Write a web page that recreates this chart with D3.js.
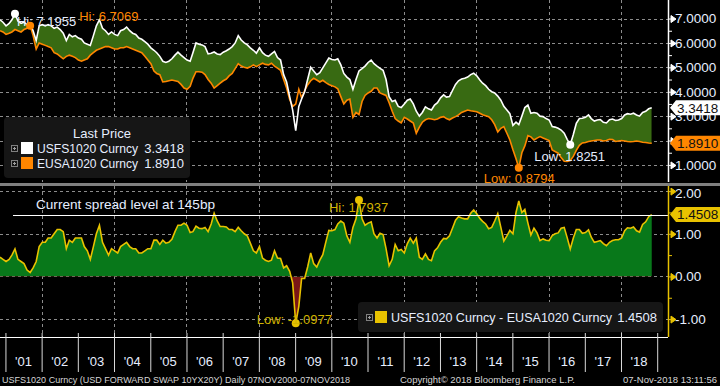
<!DOCTYPE html>
<html>
<head>
<meta charset="utf-8">
<script src="https://cdn.jsdelivr.net/npm/d3@7"></script>
<style>
  body { margin: 0; background: #000; }
  svg { display: block; font-family: 'Liberation Sans', Arial, sans-serif; }
</style>
</head>
<body>
<svg id="chart" width="720" height="386"></svg>
<script>
// monthly closes, first one on 07-Nov-2000
const firstDay = '2000-11-07';

const usfsValues = [
  6.95, 6.85, 6.70, 6.80, 6.95, 7.1955, 6.90, 6.80, 6.85, 6.75,
  6.80, 6.50, 6.10, 6.70, 6.75, 6.70, 6.75, 6.70, 6.60, 6.65,
  6.55, 6.40, 6.10, 6.35, 6.25, 6.30, 6.20, 6.15, 6.00, 5.95,
  5.90, 6.30, 6.70, 6.95, 6.60, 6.50, 6.35, 6.45, 6.35, 6.30,
  6.50, 6.55, 6.65, 6.50, 6.40, 6.35, 6.20, 6.15, 6.05, 5.95,
  5.80, 5.70, 5.60, 5.45, 5.25, 5.20, 5.25, 5.35, 5.50, 5.62,
  5.50, 5.40, 5.30, 5.25, 5.60, 6.00, 5.95, 5.92, 5.85, 5.55,
  5.58, 5.63, 5.55, 5.52, 5.62, 5.68, 5.75, 5.85, 6.00, 6.30,
  6.12, 6.00, 5.92, 5.80, 5.70, 5.58, 5.80, 5.60, 5.50, 5.45,
  5.55, 5.65, 5.40, 5.30, 4.70, 4.40, 3.80, 3.25, 2.4023, 3.40,
  3.70, 4.00, 4.50, 5.00, 4.85, 4.70, 4.78, 4.98, 5.18, 5.38,
  5.32, 5.30, 5.35, 5.10, 4.75, 4.60, 4.50, 4.10, 4.50, 4.8537,
  4.95, 5.05, 5.20, 5.30, 5.15, 5.05, 4.96, 4.88, 4.50, 3.80,
  3.60, 3.65, 3.40, 3.35, 3.50, 3.65, 3.70, 3.50, 3.20, 3.00,
  3.15, 3.38, 3.30, 3.25, 3.45, 3.55, 3.75, 3.87, 3.78, 3.80,
  4.05, 4.30, 4.45, 4.52, 4.55, 4.60, 4.70, 4.76, 4.65, 4.48,
  4.35, 4.25, 4.10, 4.00, 3.95, 3.82, 3.65, 3.40, 3.25, 3.10,
  2.62, 2.75, 2.65, 3.00, 3.35, 3.45, 3.12, 3.15, 3.12, 3.00,
  2.98, 2.90, 2.84, 2.57, 2.55, 2.50, 2.43, 2.30, 2.05, 1.8251,
  2.25, 2.70, 2.90, 2.91, 2.95, 3.05, 2.90, 2.80, 2.84, 2.86,
  2.75, 2.72, 2.85, 2.88, 2.82, 2.84, 2.90, 3.05, 3.10, 3.08,
  3.12, 3.05, 3.00, 3.15, 3.20, 3.30, 3.3418
];

const eusaValues = [
  6.50, 6.45, 6.35, 6.40, 6.45, 6.55, 6.50, 6.45, 6.55, 6.60,
  6.7069, 6.30, 5.75, 6.00, 5.95, 5.90, 5.85, 5.80, 5.60, 5.55,
  5.45, 5.35, 5.45, 5.50, 5.45, 5.40, 5.30, 5.25, 5.30, 5.35,
  5.50, 5.60, 5.70, 5.75, 5.80, 5.85, 5.85, 5.80, 5.75, 5.75,
  5.80, 5.80, 5.85, 5.80, 5.75, 5.70, 5.65, 5.60, 5.45, 5.30,
  5.15, 4.85, 4.75, 4.70, 4.40, 4.42, 4.45, 4.48, 4.45, 4.42,
  4.30, 4.15, 4.10, 4.22, 4.55, 4.82, 4.82, 4.80, 4.70, 4.50,
  4.35, 4.15, 4.25, 4.35, 4.45, 4.52, 4.65, 4.75, 4.95, 5.15,
  5.05, 5.00, 4.97, 5.02, 5.10, 5.03, 5.10, 5.17, 5.12, 5.10,
  5.17, 5.05, 4.97, 4.88, 4.50, 4.15, 3.68, 3.40, 3.50, 4.10,
  3.75, 4.05, 4.28, 4.45, 4.55, 4.48, 4.40, 4.47, 4.37, 4.30,
  4.25, 4.20, 4.12, 3.80, 3.50, 3.65, 3.70, 2.95, 3.15, 3.06,
  3.60, 3.85, 3.95, 4.02, 4.15, 4.15, 3.95, 3.90, 3.85, 3.55,
  3.20, 2.90, 2.80, 2.72, 2.95, 2.88, 2.80, 2.72, 2.30, 2.55,
  2.75, 2.85, 2.90, 2.88, 2.85, 2.88, 2.95, 2.98, 2.90, 2.85,
  2.92, 2.98, 3.05, 3.15, 3.20, 3.25, 3.22, 3.20, 3.18, 3.12,
  3.06, 3.02, 2.98, 2.85, 2.65, 2.35, 2.50, 2.57, 2.30, 2.02,
  1.62, 1.25, 0.8794, 1.50, 1.78, 2.20, 2.15, 2.02, 2.10, 2.16,
  2.10, 2.05, 2.00, 1.61, 1.55, 1.48, 1.30, 1.15, 1.14, 1.18,
  1.35, 1.60, 1.80, 1.90, 1.92, 1.96, 1.98, 2.00, 2.02, 2.02,
  1.98, 2.00, 2.05, 2.04, 1.96, 1.98, 2.00, 1.98, 1.96, 1.95,
  1.96, 1.98, 1.96, 1.93, 1.92, 1.90, 1.891
];

const yearLabels = ["'01", "'02", "'03", "'04", "'05", "'06", "'07", "'08", "'09",
  "'10", "'11", "'12", "'13", "'14", "'15", "'16", "'17", "'18"];
const topTicks = [1, 2, 3, 4, 5, 6, 7];
const topMinorTicks = [1.5, 2.5, 3.5, 4.5, 5.5, 6.5];
const bottomTicks = [-1, 0, 1, 2];
const bottomMinorTicks = [-0.5, 0.5, 1.5];
const spreadLevel = 1.45;
const usfsName = 'USFS1020 Curncy';
const eusaName = 'EUSA1020 Curncy';
const footerLeft = 'USFS1020 Curncy (USD FORWARD SWAP 10YX20Y)  Daily 07NOV2000-07NOV2018';
const footerMid = 'Copyright\u00a9 2018 Bloomberg Finance L.P.';
const footerRight = '07-Nov-2018 13:11:56';

const WHITE_TXT = '#e6eeff';
const ORANGE = '#ff8600';
const YELLOW = '#e8c200';
const YELLOW_TXT = '#d2b400';
const GRID = '#8c8c8c';

const svg = d3.select('#chart');
const plotRight = 668;
const topPanel = { y0: 0, y1: 182 };
const botPanel = { y0: 186, y1: 337 };

const start = d3.timeParse('%Y-%m-%d')(firstDay);
const rows = usfsValues.map((u, i) => ({
  date: d3.timeMonth.offset(start, i),
  usfs: u,
  eusa: eusaValues[i],
  spread: u - eusaValues[i]
}));
const last = rows[rows.length - 1];

const x = d3.scaleTime()
  .domain([start, new Date(2019, 3, 20)])
  .range([0, plotRight]);
const yTop = d3.scaleLinear().domain([0.3, 7.76]).range([topPanel.y1, topPanel.y0]);
const yBot = d3.scaleLinear().domain([-1.42, 2.12]).range([botPanel.y1, botPanel.y0]);

// clips
const defs = svg.append('defs');
defs.append('clipPath').attr('id', 'clip-top')
  .append('rect').attr('x', 0).attr('y', topPanel.y0).attr('width', plotRight).attr('height', topPanel.y1 - topPanel.y0);
defs.append('clipPath').attr('id', 'clip-bot')
  .append('rect').attr('x', 0).attr('y', botPanel.y0).attr('width', plotRight).attr('height', botPanel.y1 - botPanel.y0);
defs.append('clipPath').attr('id', 'above-eusa')
  .append('path').attr('d', d3.area().x(d => x(d.date)).y0(topPanel.y0).y1(d => yTop(d.eusa))(rows));
defs.append('clipPath').attr('id', 'above-zero')
  .append('rect').attr('x', 0).attr('y', botPanel.y0).attr('width', plotRight).attr('height', yBot(0) - botPanel.y0);
defs.append('clipPath').attr('id', 'below-zero')
  .append('rect').attr('x', 0).attr('y', yBot(0)).attr('width', plotRight).attr('height', botPanel.y1 - yBot(0));

// grid
const grid = svg.append('g').attr('stroke', GRID).attr('stroke-dasharray', '3,3').attr('stroke-width', 1);
const gridYears = d3.timeYear.range(new Date(2002, 0, 1), new Date(2019, 0, 2), 2);
gridYears.forEach(d => {
  const gx = Math.round(x(d)) + 0.5;
  grid.append('line').attr('x1', gx).attr('x2', gx).attr('y1', topPanel.y0).attr('y2', topPanel.y1);
  grid.append('line').attr('x1', gx).attr('x2', gx).attr('y1', botPanel.y0).attr('y2', botPanel.y1);
});
topTicks.forEach(t => {
  const gy = Math.round(yTop(t)) + 0.5;
  grid.append('line').attr('x1', 0).attr('x2', plotRight).attr('y1', gy).attr('y2', gy);
});
bottomTicks.forEach(t => {
  const gy = Math.round(yBot(t)) + 0.5;
  grid.append('line').attr('x1', 0).attr('x2', plotRight).attr('y1', gy).attr('y2', gy);
});

// ---------------- top panel
const topG = svg.append('g').attr('clip-path', 'url(#clip-top)');

// white hi label sits under the lines
const usfsHi = rows[d3.maxIndex(rows, d => d.usfs)];
svg.append('text')
  .attr('x', x(usfsHi.date) + 2).attr('y', yTop(usfsHi.usfs) + 12)
  .attr('fill', WHITE_TXT).attr('font-size', 13)
  .text('Hi: ' + usfsHi.usfs.toFixed(4));

topG.append('path')
  .attr('clip-path', 'url(#above-eusa)')
  .attr('fill', '#386a12')
  .attr('d', d3.area().x(d => x(d.date)).y0(topPanel.y1).y1(d => yTop(d.usfs))(rows));

topG.append('path')
  .attr('fill', 'none').attr('stroke', ORANGE).attr('stroke-width', 1.6)
  .attr('d', d3.line().x(d => x(d.date)).y(d => yTop(d.eusa))(rows));
topG.append('path')
  .attr('fill', 'none').attr('stroke', '#fff').attr('stroke-width', 1.6)
  .attr('d', d3.line().x(d => x(d.date)).y(d => yTop(d.usfs))(rows));

function markPoint(cx, cy, color, txt, dx, dy, txtColor) {
  svg.append('circle').attr('cx', cx).attr('cy', cy).attr('r', 4).attr('fill', color);
  if (txt) {
    svg.append('text').attr('x', cx + dx).attr('y', cy + dy)
      .attr('fill', txtColor || color).attr('font-size', 13).text(txt);
  }
}
markPoint(x(usfsHi.date), yTop(usfsHi.usfs), '#fff', null);
const eusaHi = rows[d3.maxIndex(rows, d => d.eusa)];
markPoint(x(eusaHi.date), yTop(eusaHi.eusa), ORANGE,
  'Hi: ' + eusaHi.eusa.toFixed(4), 49, -5);
const usfsLo = rows[d3.minIndex(rows, d => d.usfs)];
markPoint(x(usfsLo.date), yTop(usfsLo.usfs), '#fff',
  'Low: ' + usfsLo.usfs.toFixed(4), -36, 16, WHITE_TXT);
const eusaLo = rows[d3.minIndex(rows, d => d.eusa)];
markPoint(x(eusaLo.date), yTop(eusaLo.eusa), ORANGE,
  'Low: ' + eusaLo.eusa.toFixed(4), -35, 15);

// top legend
const leg = svg.append('g');
leg.append('rect').attr('x', 4).attr('y', 117).attr('width', 186).attr('height', 61)
  .attr('rx', 4).attr('fill', '#161616');
leg.append('text').attr('x', 102).attr('y', 138).attr('text-anchor', 'middle')
  .attr('fill', WHITE_TXT).attr('font-size', 13).text('Last Price');

function plusIcon(g, px, py) {
  g.append('rect').attr('x', px + 0.5).attr('y', py + 0.5).attr('width', 6).attr('height', 6)
    .attr('fill', 'none').attr('stroke', '#808080');
  g.append('path').attr('d', `M${px + 2},${py + 3.5}h3M${px + 3.5},${py + 2}v3`)
    .attr('stroke', '#a0a0a0');
}
const legRows = [
  { name: usfsName, value: last.usfs, color: '#fff' },
  { name: eusaName, value: last.eusa, color: ORANGE }
];
legRows.forEach((r, i) => {
  const ly = 148 + i * 15;
  plusIcon(leg, 11, ly - 3);
  leg.append('rect').attr('x', 21).attr('y', ly - 6).attr('width', 12).attr('height', 12).attr('fill', r.color);
  leg.append('text').attr('x', 37).attr('y', ly + 5).attr('fill', WHITE_TXT).attr('font-size', 12.5)
    .attr('textLength', 101).attr('lengthAdjust', 'spacingAndGlyphs').text(r.name);
  leg.append('text').attr('x', 184).attr('y', ly + 5).attr('text-anchor', 'end')
    .attr('fill', WHITE_TXT).attr('font-size', 13).text(r.value.toFixed(4));
});

// ---------------- bottom panel
const botG = svg.append('g').attr('clip-path', 'url(#clip-bot)');
const spreadArea = d3.area().x(d => x(d.date)).y0(yBot(0)).y1(d => yBot(d.spread));
botG.append('path').attr('clip-path', 'url(#above-zero)').attr('fill', '#08781a').attr('d', spreadArea(rows));
botG.append('path').attr('clip-path', 'url(#below-zero)').attr('fill', '#7a1616').attr('d', spreadArea(rows));
botG.append('path')
  .attr('fill', 'none').attr('stroke', YELLOW).attr('stroke-width', 1.6)
  .attr('d', d3.line().x(d => x(d.date)).y(d => yBot(d.spread))(rows));

// current spread line
const lvlY = Math.round(yBot(spreadLevel)) + 0.5;
svg.append('line').attr('x1', 13).attr('x2', plotRight).attr('y1', lvlY).attr('y2', lvlY)
  .attr('stroke', '#fff').attr('stroke-width', 1.2);
svg.append('text').attr('x', 36).attr('y', lvlY - 7).attr('fill', WHITE_TXT).attr('font-size', 13)
  .attr('textLength', 179).attr('lengthAdjust', 'spacingAndGlyphs')
  .text('Current spread level at ' + Math.round(spreadLevel * 100) + 'bp');

const spHi = rows[d3.maxIndex(rows, d => d.spread)];
markPoint(x(spHi.date), yBot(spHi.spread), YELLOW,
  'Hi: ' + spHi.spread.toFixed(4), -30, 12, YELLOW_TXT);
const spLo = rows[d3.minIndex(rows, d => d.spread)];
markPoint(x(spLo.date), yBot(spLo.spread), YELLOW,
  'Low: ' + spLo.spread.toFixed(4), -39, 1, YELLOW_TXT);

// bottom legend
const leg2 = svg.append('g');
leg2.append('rect').attr('x', 358).attr('y', 302).attr('width', 305).attr('height', 30)
  .attr('rx', 4).attr('fill', '#161616');
plusIcon(leg2, 366, 314);
leg2.append('rect').attr('x', 375).attr('y', 311).attr('width', 12).attr('height', 12).attr('fill', YELLOW);
leg2.append('text').attr('x', 391).attr('y', 322).attr('fill', WHITE_TXT).attr('font-size', 12.5)
  .attr('textLength', 221).attr('lengthAdjust', 'spacingAndGlyphs')
  .text(usfsName + ' - ' + eusaName);
leg2.append('text').attr('x', 657).attr('y', 322).attr('text-anchor', 'end')
  .attr('fill', WHITE_TXT).attr('font-size', 13).text(last.spread.toFixed(4));

// panel separator
svg.append('rect').attr('x', 0).attr('y', 183).attr('width', 720).attr('height', 3).attr('fill', '#7f7f7f');

// ---------------- right axes
// labels that sit under a last-value box are left out, as on the terminal
const boxYs = [yTop(last.usfs), yTop(last.eusa), yBot(last.spread)];

function drawAxis(scale, ticks, minor, fmt, color, panel) {
  const g = svg.append('g').attr('transform', `translate(${plotRight},0)`);
  g.append('line').attr('x1', 0.5).attr('x2', 0.5).attr('y1', panel.y0).attr('y2', panel.y1)
    .attr('stroke', color).attr('stroke-width', 1.5);
  const ax = g.append('g')
    .call(d3.axisRight(scale).tickValues(ticks).tickFormat(fmt).tickSize(0).tickPadding(7));
  ax.select('.domain').remove();
  ax.attr('font-family', null);
  ax.selectAll('.tick text')
    .attr('fill', WHITE_TXT).attr('font-size', 13.5)
    .attr('dy', d => (0.32 + Math.max(0, panel.y0 + 7 - scale(d)) / 13.5) + 'em')
    .filter(d => boxYs.some(by => Math.abs(by - scale(d)) < 7))
    .remove();
  ax.selectAll('.tick').append('path')
    .attr('d', 'M0,0H4M3,-3.5L8,0L3,3.5Z')
    .attr('fill', color).attr('stroke', color).attr('stroke-width', 1);
  const mg = g.append('g')
    .call(d3.axisRight(scale).tickValues(minor).tickFormat('').tickSize(4));
  mg.select('.domain').remove();
  mg.selectAll('.tick line').attr('stroke', color);
}
drawAxis(yTop, topTicks, topMinorTicks, d => d.toFixed(4), '#fff', topPanel);
drawAxis(yBot, bottomTicks, bottomMinorTicks, d => d.toFixed(2), YELLOW, botPanel);

function valueBox(vy, fill, txt) {
  const g = svg.append('g');
  g.append('path')
    .attr('d', `M${plotRight + 2},${vy}L${plotRight + 8},${vy - 7.5}H720V${vy + 7.5}H${plotRight + 8}Z`)
    .attr('fill', fill);
  g.append('text').attr('x', 677).attr('y', vy).attr('dy', '0.35em')
    .attr('fill', '#111').attr('font-size', 13.5).text(txt);
}
valueBox(yTop(last.usfs), '#fff', last.usfs.toFixed(4));
valueBox(yTop(last.eusa), ORANGE, last.eusa.toFixed(4));
valueBox(yBot(last.spread), YELLOW, last.spread.toFixed(4));

// ---------------- time axis
const xg = svg.append('g').attr('transform', `translate(0,${botPanel.y1})`);
const yearTicks = d3.timeYear.range(new Date(2001, 0, 1), new Date(2019, 0, 2));
xg.call(d3.axisBottom(x).tickValues(yearTicks).tickFormat('').tickSize(35).tickSizeOuter(0));
xg.select('.domain').attr('stroke', '#fff').attr('d', `M0,0.5H${plotRight}`);
xg.selectAll('.tick line').attr('stroke', '#d8d8d8');
xg.selectAll('.tick').append('line').attr('y1', 0).attr('y2', -4).attr('stroke', '#d8d8d8');
yearLabels.forEach((lab, i) => {
  const mid = new Date(2001 + i, 6, 2);
  xg.append('text').attr('x', x(mid)).attr('y', 29).attr('text-anchor', 'middle')
    .attr('fill', WHITE_TXT).attr('font-size', 13).text(lab);
});

// footer
const foot = svg.append('g').attr('font-size', 9.5).attr('fill', '#d6d6d6');
foot.append('text').attr('x', 2).attr('y', 383).attr('textLength', 348)
  .attr('lengthAdjust', 'spacingAndGlyphs').text(footerLeft);
foot.append('text').attr('x', 400).attr('y', 383).attr('textLength', 175)
  .attr('lengthAdjust', 'spacingAndGlyphs').text(footerMid);
foot.append('text').attr('x', 717).attr('y', 383).attr('text-anchor', 'end')
  .attr('textLength', 94).attr('lengthAdjust', 'spacingAndGlyphs').text(footerRight);
</script>
</body>
</html>
